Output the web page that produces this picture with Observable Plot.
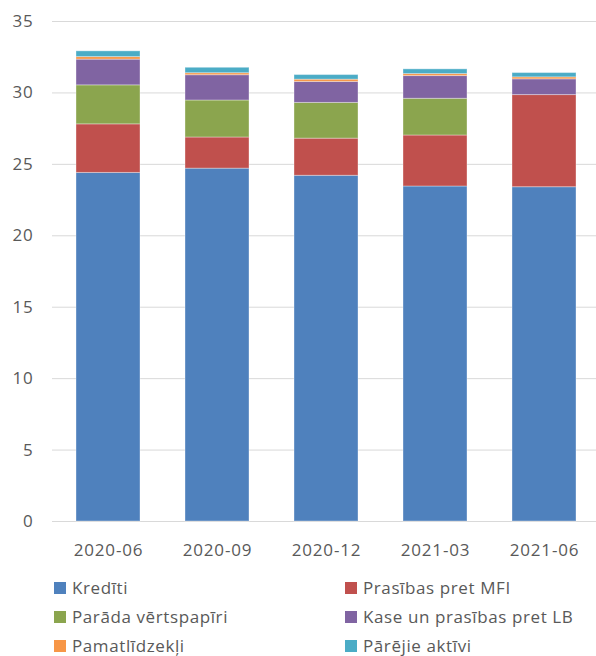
<!DOCTYPE html>
<html>
<head>
<meta charset="utf-8">
<script src="https://cdn.jsdelivr.net/npm/d3@7"></script>
<script src="https://cdn.jsdelivr.net/npm/@observablehq/plot@0.6"></script>
<style>
  html, body { margin: 0; padding: 0; background: #fff; overflow: hidden; }
  #wrap { position: relative; width: 596px; height: 656px; font-family: "Open Sans", sans-serif; }
  #chart svg { display: block; }
  .legend { position: absolute; left: 0; top: 579px; width: 596px; }
  .item { position: absolute; display: flex; align-items: center; height: 18px; font-size: 17px; line-height: 18px; color: #595959; letter-spacing: 0.6px; white-space: nowrap; }
  .sw { width: 12px; height: 12px; margin-right: 6px; }
</style>
</head>
<body>
<div id="wrap">
  <div id="chart"></div>
  <div class="legend" id="legend"></div>
</div>
<script>
// Quarters on the x axis
const periods = ["2020-06", "2020-09", "2020-12", "2021-03", "2021-06"];

// Asset components (billions)
const krediti       = [24.4, 24.7, 24.2, 23.45, 23.4];
const prasibasMFI   = [3.4, 2.18, 2.6, 3.57, 6.45];
const paradaVP      = [2.73, 2.59, 2.5, 2.57, 0];
const kaseLB        = [1.8, 1.77, 1.47, 1.59, 1.1];
const pamatlidzekli = [0.18, 0.14, 0.16, 0.14, 0.14];
const parejie       = [0.4, 0.38, 0.32, 0.33, 0.3];

const seriesNames = ["Kredīti", "Prasības pret MFI", "Parāda vērtspapīri",
                     "Kase un prasības pret LB", "Pamatlīdzekļi", "Pārējie aktīvi"];
const seriesValues = [krediti, prasibasMFI, paradaVP, kaseLB, pamatlidzekli, parejie];
const colors = ["#4f81bd", "#c0504d", "#8ba54e", "#8064a2", "#f79646", "#4bacc6"];

const yTicks = [0, 5, 10, 15, 20, 25, 30, 35];

const rows = [];
seriesNames.forEach((name, s) => {
  periods.forEach((p, i) => rows.push({period: p, series: name, value: seriesValues[s][i]}));
});

const chart = Plot.plot({
  width: 596,
  height: 565,
  marginTop: 21,
  marginBottom: 44,
  marginLeft: 52,
  marginRight: -3,
  style: {fontFamily: "Open Sans, sans-serif", fontSize: "17px", color: "#595959", letterSpacing: "0.8px"},
  x: {domain: periods, paddingInner: 0.4145, paddingOuter: 0.207, label: null},
  y: {domain: [0, 35], label: null},
  color: {domain: seriesNames, range: colors},
  marks: [
    Plot.gridY(yTicks, {stroke: "#d9d9d9", strokeOpacity: 1, strokeWidth: 1}),
    Plot.axisY(yTicks, {tickSize: 0, tickPadding: 19, label: null, fill: "#595959"}),
    Plot.axisX({tickSize: 0, tickPadding: 22, label: null, fill: "#595959"}),
    Plot.barY(rows, Plot.stackY({
      x: "period", y: "value", fill: "series",
      stroke: "white", strokeOpacity: 0.35, strokeWidth: 1
    }))
  ]
});
document.getElementById("chart").appendChild(chart);

// Two-column legend under the chart
const legend = document.getElementById("legend");
const colX = [54, 345];
seriesNames.forEach((name, i) => {
  const item = document.createElement("div");
  item.className = "item";
  item.style.left = colX[i % 2] + "px";
  item.style.top = (Math.floor(i / 2) * 29) + "px";
  const sw = document.createElement("span");
  sw.className = "sw";
  sw.style.background = colors[i];
  const label = document.createElement("span");
  label.textContent = name;
  item.appendChild(sw);
  item.appendChild(label);
  legend.appendChild(item);
});
</script>
</body>
</html>
